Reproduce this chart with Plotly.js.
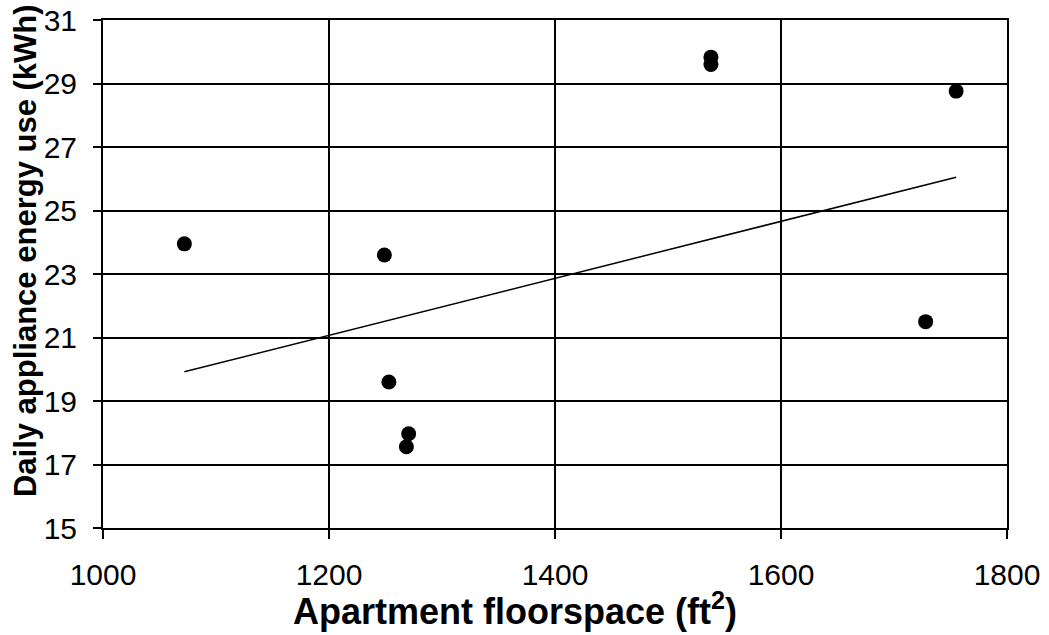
<!DOCTYPE html>
<html>
<head>
<meta charset="utf-8">
<script src="https://cdn.plot.ly/plotly-3.0.1.min.js"></script>
<style>html,body{margin:0;padding:0;background:#fff;}#chart{width:1049px;height:635px;}</style>
</head>
<body>
<div id="chart"></div>
<script>
// Apartment floorspace (ft²) vs daily appliance energy use (kWh)
const floorspace = [1072, 1249, 1253, 1270.5, 1268.5, 1538, 1538, 1755, 1728];
const energyUse  = [23.95, 23.6, 19.6, 17.97, 17.56, 29.83, 29.6, 28.76, 21.5];
// Trend line endpoints
const trendX = [1072, 1755];
const trendY = [19.92, 26.05];
const xTicks = [1000, 1200, 1400, 1600, 1800];
const yTicks = [15, 17, 19, 21, 23, 25, 27, 29, 31];

const FONT = "Liberation Sans, Arial, sans-serif";

const traces = [
  {
    x: trendX, y: trendY, type: 'scatter', mode: 'lines',
    line: {color: '#000', width: 1.5}, hoverinfo: 'skip', showlegend: false
  },
  {
    x: floorspace, y: energyUse, type: 'scatter', mode: 'markers',
    marker: {color: '#000', size: 15, symbol: 'circle'}, showlegend: false
  }
];

const layout = {
  width: 1049, height: 635,
  margin: {l: 103, r: 42, t: 20, b: 107},
  paper_bgcolor: '#fff', plot_bgcolor: '#fff',
  font: {family: FONT, color: '#000', size: 30},
  showlegend: false,
  xaxis: {
    range: [1000, 1800], tickvals: xTicks, ticktext: xTicks.map(String),
    showgrid: true, gridcolor: '#000', gridwidth: 2,
    showline: true, linecolor: '#000', linewidth: 2, mirror: true,
    ticks: 'outside', ticklen: 9, tickwidth: 2, tickcolor: '#000',
    ticklabelstandoff: 10,
    zeroline: false, tickfont: {family: FONT, size: 30, color: '#000'}
  },
  yaxis: {
    range: [15, 31], tickvals: yTicks, ticktext: yTicks.map(String),
    showgrid: true, gridcolor: '#000', gridwidth: 2,
    showline: true, linecolor: '#000', linewidth: 2, mirror: true,
    ticks: 'outside', ticklen: 8, tickwidth: 2, tickcolor: '#000',
    ticklabelstandoff: 10,
    zeroline: false, tickfont: {family: FONT, size: 30, color: '#000'}
  },
  annotations: [
    {
      text: '<b>Apartment floorspace (ft<sup>2</sup>)</b>',
      xref: 'paper', yref: 'paper', x: 0.4558, y: -0.159,
      xanchor: 'center', yanchor: 'middle', showarrow: false,
      font: {family: FONT, size: 36, color: '#000'}
    },
    {
      text: '<b>Daily appliance energy use (kWh)</b>',
      xref: 'paper', yref: 'paper', x: -0.0863, y: 0.547,
      xanchor: 'center', yanchor: 'middle', textangle: -90, showarrow: false,
      font: {family: FONT, size: 31, color: '#000'}
    }
  ]
};

Plotly.newPlot('chart', traces, layout, {displayModeBar: false, staticPlot: true});
</script>
</body>
</html>
